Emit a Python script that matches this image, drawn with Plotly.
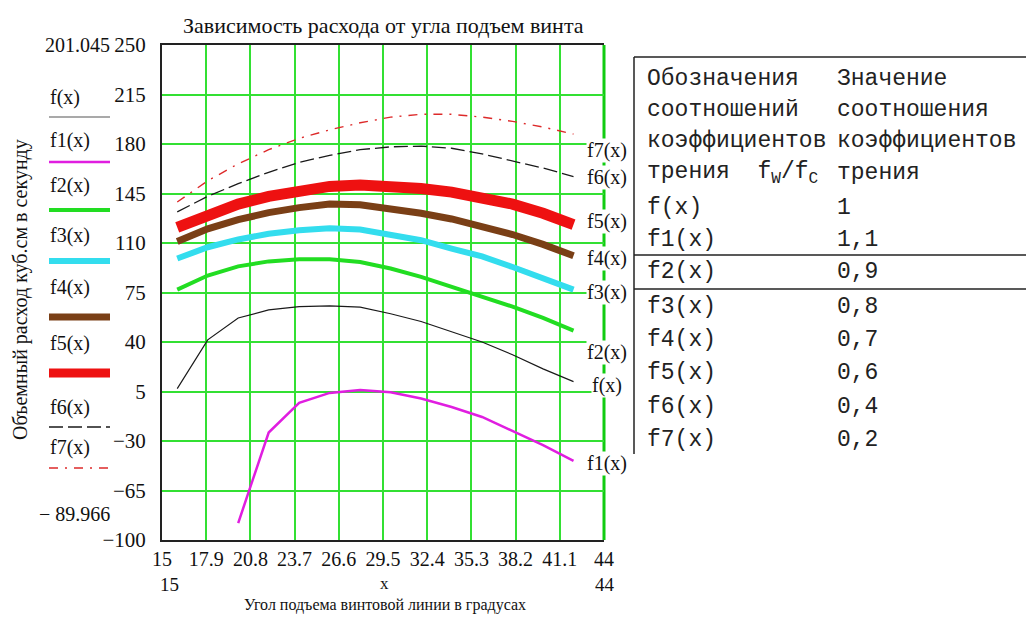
import plotly.graph_objects as go

# ---------------- data ----------------
x_vals = [16, 18, 20, 22, 24, 26, 28, 30, 32, 34, 36, 38, 40, 42]
f_vals  = [7, 41.5, 57, 62.7, 65, 65.5, 64.7, 60, 54.5, 47.5, 40, 31, 21, 12]
f1_vals = [None, None, -88, -24, -3, 4, 6, 4.5, 0, -6, -13, -23, -33, -44]
f2_vals = [77, 87, 93.5, 97, 98.5, 98.5, 96.5, 92, 86, 79, 72, 65, 57, 48]
f3_vals = [99, 107, 112.5, 116.5, 119, 120.5, 119.5, 116, 112, 106, 100.5, 93, 85, 77]
f4_vals = [111, 120, 126.5, 131.5, 135, 137.5, 137, 134.5, 131, 127, 122, 116, 109, 101]
f5_vals = [121, 130, 137.5, 143, 147, 150, 151, 150.5, 148.5, 146, 142, 137.5, 131, 123]
f6_vals = [132, 143, 152, 160, 167, 172, 176, 178, 178.5, 177, 173, 168, 163, 157]
f7_vals = [139, 154, 166, 176, 184, 190, 195, 199, 201, 201, 199, 196, 192, 187]

series_names = ["f(x)", "f1(x)", "f2(x)", "f3(x)", "f4(x)", "f5(x)", "f6(x)", "f7(x)"]
series_values = [f_vals, f1_vals, f2_vals, f3_vals, f4_vals, f5_vals, f6_vals, f7_vals]

x_ticks = [15, 17.9, 20.8, 23.7, 26.6, 29.5, 32.4, 35.3, 38.2, 41.1, 44]
x_tick_text = ["15", "17.9", "20.8", "23.7", "26.6", "29.5", "32.4", "35.3", "38.2", "41.1", "44"]
y_ticks = [-100, -65, -30, 5, 40, 75, 110, 145, 180, 215, 250]
y_tick_text = ["\u2212100", "\u221265", "\u221230", "5", "40", "75", "110", "145", "180", "215", "250"]

y_max_marker = "201.045"
y_min_marker = "\u2212 89.966"

title_text = "Зависимость расхода от угла подъем винта"
x_title = "Угол подъема винтовой линии в градусах"
y_title = "Объемный расход куб.см в секунду"

table_col1 = ["Обозначения", "соотношений", "коэффициентов", "трения  f<sub>W</sub>/f<sub>C</sub>",
              "f(x)", "f1(x)", "f2(x)", "f3(x)", "f4(x)", "f5(x)", "f6(x)", "f7(x)"]
table_col2 = ["Значение", "соотношения", "коэффициентов", "трения",
              "1", "1,1", "0,9", "0,8", "0,7", "0,6", "0,4", "0,2"]

# ---------------- styles ----------------
styles = [
    dict(color="#1a1a1a", width=1.2, dash="solid"),
    dict(color="#e01ee0", width=2.5, dash="solid"),
    dict(color="#22dd22", width=4, dash="solid"),
    dict(color="#33ddee", width=6, dash="solid"),
    dict(color="#7a3f16", width=7, dash="solid"),
    dict(color="#ee1111", width=11, dash="solid"),
    dict(color="#1a1a1a", width=1.3, dash="14px,5px"),
    dict(color="#dd2a2a", width=1.4, dash="9px,7px,2px,7px"),
]
# right-hand label vertical positions (screen pixels)
label_py = [385, 463, 352, 292, 258, 222, 177, 150]
# left legend: label y, line y (screen pixels)
legend_py = [(97, 117), (140, 162), (185, 210), (235, 261), (287, 317), (343, 373), (407, 427), (447, 468)]

# screen geometry (the page body adds an 8px margin)
OFF = 8
SW, SH = 1034, 623
W, H = SW - 2 * OFF, SH - 2 * OFF
L, R, T, B = 162, 604, 45, 540
SERIF = "Liberation Serif, Times New Roman, serif"
MONO = "Liberation Mono, Courier New, monospace"


def px(xp):
    return (xp - L) / (R - L)


def py(yp):
    return (B - yp) / (B - T)


fig = go.Figure()
for name, vals, st in zip(series_names, series_values, styles):
    fig.add_trace(go.Scatter(x=x_vals, y=vals, mode="lines", name=name,
                             line=dict(color=st["color"], width=st["width"], dash=st["dash"]),
                             connectgaps=False, showlegend=False))

annotations = []
shapes = []

# right border (green)
shapes.append(dict(type="line", xref="paper", yref="paper", x0=1, x1=1, y0=0, y1=1,
                   line=dict(color="#11cc11", width=3), layer="below"))

# right-hand curve labels
for name, yp in zip(series_names, label_py):
    annotations.append(dict(x=px(607), y=py(yp), xref="paper", yref="paper", text=name,
                            showarrow=False, xanchor="center", yanchor="middle",
                            font=dict(family=SERIF, size=20, color="#111"),
                            bgcolor="white", borderpad=0))

# left legend
for name, st, (ty, ly) in zip(series_names, styles, legend_py):
    annotations.append(dict(x=px(48), y=py(ty), xref="paper", yref="paper", text=name,
                            showarrow=False, xanchor="left", yanchor="middle",
                            font=dict(family=SERIF, size=20, color="#111")))
    lw = min(st["width"], 9)
    col = st["color"] if name != "f(x)" else "#555555"
    shapes.append(dict(type="line", xref="paper", yref="paper", x0=px(49), x1=px(110),
                       y0=py(ly), y1=py(ly),
                       line=dict(color=col, width=lw, dash=st["dash"])))

annotations.append(dict(x=px(112), y=py(45), xref="paper", yref="paper", text=y_max_marker,
                        showarrow=False, xanchor="right", yanchor="middle",
                        font=dict(family=SERIF, size=20, color="#111")))
annotations.append(dict(x=px(112), y=py(514), xref="paper", yref="paper", text=y_min_marker,
                        showarrow=False, xanchor="right", yanchor="middle",
                        font=dict(family=SERIF, size=20, color="#111")))

# title
annotations.append(dict(x=px(383), y=py(26), xref="paper", yref="paper", text=title_text,
                        showarrow=False, xanchor="center", yanchor="middle",
                        font=dict(family=SERIF, size=22, color="#111")))
# y title
annotations.append(dict(x=px(20), y=py(290), xref="paper", yref="paper", text=y_title,
                        showarrow=False, xanchor="center", yanchor="middle", textangle=-90,
                        font=dict(family=SERIF, size=20, color="#111")))
# x second row and title
annotations.append(dict(x=px(169), y=py(584), xref="paper", yref="paper", text=x_tick_text[0],
                        showarrow=False, xanchor="center", yanchor="middle",
                        font=dict(family=SERIF, size=19, color="#111")))
annotations.append(dict(x=px(384), y=py(583), xref="paper", yref="paper", text="x",
                        showarrow=False, xanchor="center", yanchor="middle",
                        font=dict(family=SERIF, size=17, color="#111")))
annotations.append(dict(x=px(605), y=py(584), xref="paper", yref="paper", text=x_tick_text[-1],
                        showarrow=False, xanchor="center", yanchor="middle",
                        font=dict(family=SERIF, size=19, color="#111")))
annotations.append(dict(x=px(385), y=py(605), xref="paper", yref="paper", text=x_title,
                        showarrow=False, xanchor="center", yanchor="middle",
                        font=dict(family=SERIF, size=16, color="#111")))

# table
row_py = [79, 110, 141, 173, 208, 240, 272, 307, 340, 373, 407, 440]
for t1, t2, yp in zip(table_col1, table_col2, row_py):
    annotations.append(dict(x=px(645), y=py(yp), xref="paper", yref="paper", text=t1,
                            showarrow=False, xanchor="left", yanchor="middle",
                            font=dict(family=MONO, size=23, color="#222")))
    annotations.append(dict(x=px(835), y=py(yp), xref="paper", yref="paper", text=t2,
                            showarrow=False, xanchor="left", yanchor="middle",
                            font=dict(family=MONO, size=23, color="#222")))
for yl in [57, 255, 289]:
    shapes.append(dict(type="line", xref="paper", yref="paper", x0=px(634), x1=px(1040),
                       y0=py(yl), y1=py(yl), line=dict(color="#222", width=1.5)))
shapes.append(dict(type="line", xref="paper", yref="paper", x0=px(634), x1=px(634),
                   y0=py(57), y1=py(454), line=dict(color="#222", width=1.5)))

fig.update_layout(
    width=W, height=H,
    margin=dict(l=L - OFF, r=W - (R - OFF), t=T - OFF, b=H - (B - OFF)),
    paper_bgcolor="white", plot_bgcolor="white",
    annotations=annotations, shapes=shapes,
    xaxis=dict(range=[15, 44], tickvals=x_ticks, ticktext=x_tick_text,
               showgrid=True, gridcolor="#33e033", gridwidth=2,
               showline=True, linecolor="#222", linewidth=2, mirror=True,
               ticks="", zeroline=False, ticklabelstandoff=0,
               tickfont=dict(family=SERIF, size=20, color="#111")),
    yaxis=dict(range=[-100, 250], tickvals=y_ticks, ticktext=y_tick_text,
               showgrid=True, gridcolor="#33e033", gridwidth=2,
               showline=True, linecolor="#222", linewidth=2,
               ticks="", zeroline=False, ticklabelstandoff=10,
               tickfont=dict(family=SERIF, size=21, color="#111")),
)

fig.write_html("out.html")
